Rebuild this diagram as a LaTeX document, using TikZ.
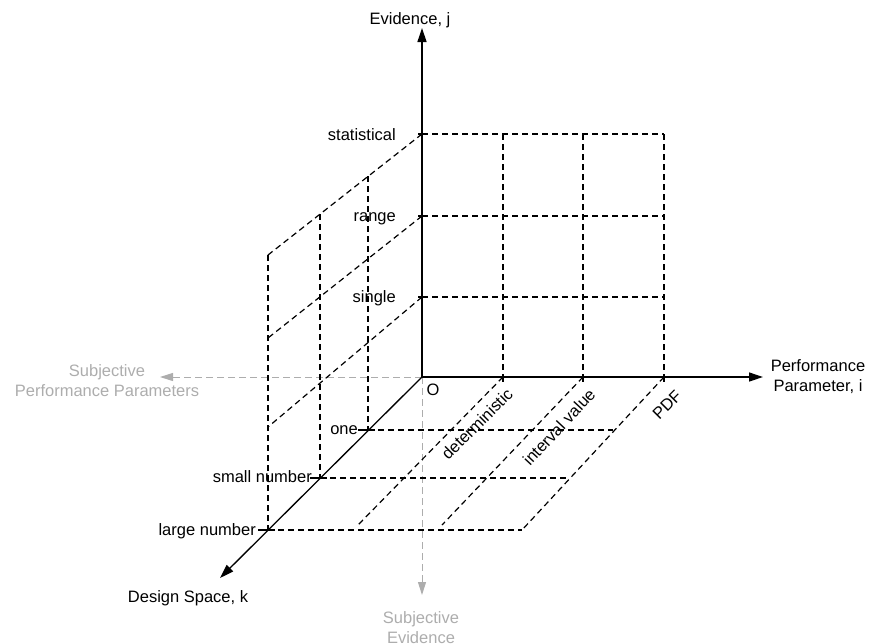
\documentclass[tikz,border=0pt]{standalone}
\usepackage{fontspec}
\setmainfont{Liberation Sans}
\usetikzlibrary{arrows.meta}
\begin{document}
\begin{tikzpicture}[x=1pt,y=-1pt,
  axis/.style={line width=1.3pt, -{Triangle[length=14pt,width=9pt]}},
  gridline/.style={line width=1.2pt, dash pattern=on 6pt off 4pt},
  subj/.style={line width=1pt, draw=black!32, dash pattern=on 7pt off 4pt, -{Triangle[length=13pt,width=8pt]}},
  lbl/.style={font=\fontsize{16.5}{20}\selectfont, inner sep=0pt},
  glbl/.style={lbl, text=black!32, align=center},
  tickmark/.style={line width=1.2pt}]
\useasboundingbox (0,0) rectangle (870,643);
% axes points
\coordinate (O) at (422,377);
\coordinate (jtip) at (422,28);
\coordinate (itip) at (763,377);
\coordinate (ktip) at (220,578);
\coordinate (subjP) at (160,377);
\coordinate (subjE) at (422,595);
% evidence levels
\coordinate (j1) at (422,297);
\coordinate (j2) at (422,216);
\coordinate (j3) at (422,134);
% performance ticks
\coordinate (i1) at (503,377);
\coordinate (i2) at (583,377);
\coordinate (i3) at (664,377);
% back wall top / right
\coordinate (i1j3) at (503,134);
\coordinate (i2j3) at (583,134);
\coordinate (i3j3) at (664,134);
\coordinate (i3j2) at (664,216);
\coordinate (i3j1) at (664,297);
% design ticks
\coordinate (k1) at (368,430);
\coordinate (k2) at (320,478);
\coordinate (k3) at (268,530);
% left wall
\coordinate (w3) at (268,255);
\coordinate (w2) at (268,338);
\coordinate (w1) at (268,427);
\coordinate (v1) at (368,176);
\coordinate (v2) at (320,214);
% floor
\coordinate (f1) at (613,430);
\coordinate (f2) at (568,478);
\coordinate (f3) at (522,530);
\coordinate (d1) at (357,526);
\coordinate (d2) at (442,525);

% subjective (gray) axes
\draw[subj] (O) -- (subjP);
\draw[subj] (O) -- (subjE);

% back wall grid
\draw[gridline] (j3) -- (i3j3);
\draw[gridline] (j2) -- (i3j2);
\draw[gridline] (j1) -- (i3j1);
\draw[gridline] (i1j3) -- (i1);
\draw[gridline] (i2j3) -- (i2);
\draw[gridline] (i3j3) -- (i3);
% left wall grid
\draw[gridline] (j3) -- (w3);
\draw[gridline] (j2) -- (w2);
\draw[gridline] (j1) -- (w1);
\draw[gridline] (v1) -- (k1);
\draw[gridline] (v2) -- (k2);
\draw[gridline] (w3) -- (k3);
% floor grid
\draw[gridline] (k1) -- (f1);
\draw[gridline] (k2) -- (f2);
\draw[gridline] (k3) -- (f3);
\draw[gridline] (i1) -- (d1);
\draw[gridline] (i2) -- (d2);
\draw[gridline] (i3) -- (f3);

% main axes
\draw[axis] (O) -- (jtip);
\draw[axis] (O) -- (itip);
\draw[axis] (O) -- (ktip);

% ticks
\foreach \p in {j1,j2,j3} \draw[tickmark] (\p) -- ++(-4,0);
\foreach \p in {i1,i2,i3} \draw[tickmark] (\p) -- ++(0,5);
\foreach \p in {k1,k2,k3} \draw[tickmark] (\p) ++(-10,0) -- ++(17,0);

% labels
\node[lbl, anchor=base] (ej) at (410,24) {Evidence, j};
\node[lbl, anchor=base east] (lstat) at (396,140) {statistical};
\node[lbl, anchor=base east] (lrange) at (396,221) {range};
\node[lbl, anchor=base east] (lsingle) at (396,302) {single};
\node[lbl] (lO) at (433,390) {O};
\node[lbl, anchor=base east] (lone) at (358,434) {one};
\node[lbl, anchor=base east] (lsmall) at (312,482) {small number};
\node[lbl, anchor=base east] (llarge) at (256,535) {large number};
\node[lbl] (ds) at (188,598) {Design Space, k};
\node[lbl, align=center] (pp) at (818,377) {Performance\\Parameter, i};
\node[lbl, rotate=45] (ldet) at (477,424) {deterministic};
\node[lbl, rotate=47] (lint) at (559,427) {interval value};
\node[lbl, rotate=45] (lpdf) at (667,405) {PDF};
\node[glbl] (spp) at (107,381) {Subjective\\Performance Parameters};
\node[glbl] (se) at (421,628) {Subjective\\Evidence};
\end{tikzpicture}
\end{document}
